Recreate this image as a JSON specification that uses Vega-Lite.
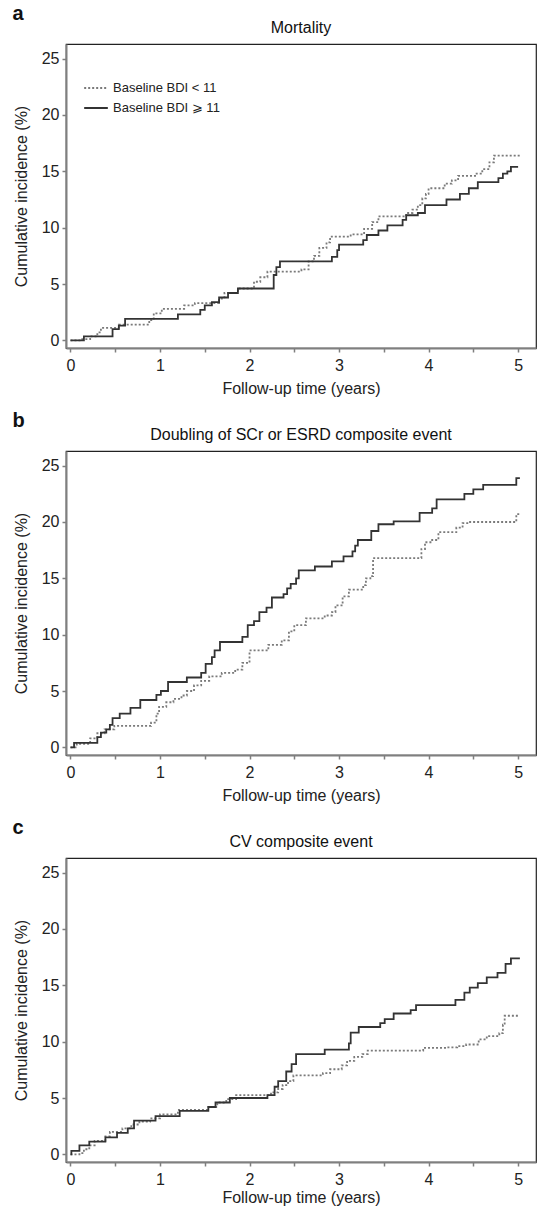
{
  "$schema": "https://vega.github.io/schema/vega-lite/v6.json",
  "padding": {"left": 12, "top": 4, "right": 1, "bottom": 0},
  "spacing": 14,
  "config": {
    "font": "Liberation Sans",
    "view": {"stroke": "#222222", "strokeWidth": 1.2},
    "axis": {"domainColor": "#7f7f7f", "domainWidth": 2, "tickColor": "#7f7f7f", "tickWidth": 1.5, "tickSize": 4, "labelFontSize": 16, "labelColor": "#222222", "labelPadding": 3, "titleFontSize": 16, "titleFontWeight": "normal", "titleColor": "#222222", "grid": false, "zindex": 1},
    "axisX": {"titlePadding": 7, "labelPadding": 5},
    "axisY": {"titlePadding": 12},
    "title": {"color": "#111111"},
    "legend": {"orient": "none", "legendX": 17, "legendY": 31, "title": null, "labelFontSize": 13, "labelColor": "#222222", "symbolType": "stroke", "symbolSize": 560, "symbolStrokeWidth": 2, "rowPadding": -22, "labelOffset": 4}
  },
  "datasets": {
    "a": [
      {"group": "Baseline BDI < 11", "t": 0, "y": 0},
      {"group": "Baseline BDI < 11", "t": 0.12, "y": 0.1},
      {"group": "Baseline BDI < 11", "t": 0.22, "y": 0.35},
      {"group": "Baseline BDI < 11", "t": 0.3, "y": 0.7},
      {"group": "Baseline BDI < 11", "t": 0.34, "y": 1.1},
      {"group": "Baseline BDI < 11", "t": 0.54, "y": 1.4},
      {"group": "Baseline BDI < 11", "t": 0.88, "y": 1.8},
      {"group": "Baseline BDI < 11", "t": 0.93, "y": 2.4},
      {"group": "Baseline BDI < 11", "t": 1.02, "y": 2.8},
      {"group": "Baseline BDI < 11", "t": 1.27, "y": 3.1},
      {"group": "Baseline BDI < 11", "t": 1.39, "y": 3.3},
      {"group": "Baseline BDI < 11", "t": 1.66, "y": 3.7},
      {"group": "Baseline BDI < 11", "t": 1.72, "y": 4.2},
      {"group": "Baseline BDI < 11", "t": 1.87, "y": 4.6},
      {"group": "Baseline BDI < 11", "t": 2.05, "y": 5.2},
      {"group": "Baseline BDI < 11", "t": 2.12, "y": 5.6},
      {"group": "Baseline BDI < 11", "t": 2.2, "y": 6.1},
      {"group": "Baseline BDI < 11", "t": 2.58, "y": 6.3},
      {"group": "Baseline BDI < 11", "t": 2.66, "y": 7.0},
      {"group": "Baseline BDI < 11", "t": 2.72, "y": 7.5},
      {"group": "Baseline BDI < 11", "t": 2.78, "y": 8.2},
      {"group": "Baseline BDI < 11", "t": 2.86, "y": 8.7},
      {"group": "Baseline BDI < 11", "t": 2.9, "y": 9.2},
      {"group": "Baseline BDI < 11", "t": 3.13, "y": 9.4},
      {"group": "Baseline BDI < 11", "t": 3.28, "y": 9.9},
      {"group": "Baseline BDI < 11", "t": 3.37, "y": 10.5},
      {"group": "Baseline BDI < 11", "t": 3.44, "y": 11.0},
      {"group": "Baseline BDI < 11", "t": 3.75, "y": 11.3},
      {"group": "Baseline BDI < 11", "t": 3.82, "y": 11.6},
      {"group": "Baseline BDI < 11", "t": 3.88, "y": 12.0},
      {"group": "Baseline BDI < 11", "t": 3.93, "y": 12.6},
      {"group": "Baseline BDI < 11", "t": 3.97, "y": 13.0},
      {"group": "Baseline BDI < 11", "t": 4.0, "y": 13.5},
      {"group": "Baseline BDI < 11", "t": 4.18, "y": 13.9},
      {"group": "Baseline BDI < 11", "t": 4.26, "y": 14.2},
      {"group": "Baseline BDI < 11", "t": 4.33, "y": 14.6},
      {"group": "Baseline BDI < 11", "t": 4.52, "y": 14.8},
      {"group": "Baseline BDI < 11", "t": 4.6, "y": 15.2},
      {"group": "Baseline BDI < 11", "t": 4.68, "y": 15.8},
      {"group": "Baseline BDI < 11", "t": 4.73, "y": 16.4},
      {"group": "Baseline BDI < 11", "t": 5.03, "y": 16.4},
      {"group": "Baseline BDI ⩾ 11", "t": 0, "y": 0},
      {"group": "Baseline BDI ⩾ 11", "t": 0.15, "y": 0.35},
      {"group": "Baseline BDI ⩾ 11", "t": 0.47, "y": 1.0},
      {"group": "Baseline BDI ⩾ 11", "t": 0.54, "y": 1.3},
      {"group": "Baseline BDI ⩾ 11", "t": 0.61, "y": 1.9},
      {"group": "Baseline BDI ⩾ 11", "t": 1.2, "y": 2.3},
      {"group": "Baseline BDI ⩾ 11", "t": 1.45, "y": 2.7},
      {"group": "Baseline BDI ⩾ 11", "t": 1.5, "y": 3.1},
      {"group": "Baseline BDI ⩾ 11", "t": 1.58, "y": 3.4},
      {"group": "Baseline BDI ⩾ 11", "t": 1.66, "y": 3.8},
      {"group": "Baseline BDI ⩾ 11", "t": 1.76, "y": 4.2},
      {"group": "Baseline BDI ⩾ 11", "t": 1.87, "y": 4.6},
      {"group": "Baseline BDI ⩾ 11", "t": 2.27, "y": 5.8},
      {"group": "Baseline BDI ⩾ 11", "t": 2.3, "y": 6.5},
      {"group": "Baseline BDI ⩾ 11", "t": 2.34, "y": 7.0},
      {"group": "Baseline BDI ⩾ 11", "t": 2.92, "y": 7.4},
      {"group": "Baseline BDI ⩾ 11", "t": 2.98, "y": 8.0},
      {"group": "Baseline BDI ⩾ 11", "t": 3.0, "y": 8.5},
      {"group": "Baseline BDI ⩾ 11", "t": 3.27, "y": 8.9},
      {"group": "Baseline BDI ⩾ 11", "t": 3.31, "y": 9.35},
      {"group": "Baseline BDI ⩾ 11", "t": 3.44, "y": 9.75},
      {"group": "Baseline BDI ⩾ 11", "t": 3.54, "y": 10.2},
      {"group": "Baseline BDI ⩾ 11", "t": 3.71, "y": 10.7},
      {"group": "Baseline BDI ⩾ 11", "t": 3.75, "y": 11.1},
      {"group": "Baseline BDI ⩾ 11", "t": 3.88, "y": 11.3},
      {"group": "Baseline BDI ⩾ 11", "t": 3.96, "y": 12.0},
      {"group": "Baseline BDI ⩾ 11", "t": 4.2, "y": 12.5},
      {"group": "Baseline BDI ⩾ 11", "t": 4.35, "y": 13.0},
      {"group": "Baseline BDI ⩾ 11", "t": 4.45, "y": 13.5},
      {"group": "Baseline BDI ⩾ 11", "t": 4.55, "y": 14.05},
      {"group": "Baseline BDI ⩾ 11", "t": 4.78, "y": 14.4},
      {"group": "Baseline BDI ⩾ 11", "t": 4.83, "y": 14.8},
      {"group": "Baseline BDI ⩾ 11", "t": 4.88, "y": 15.0},
      {"group": "Baseline BDI ⩾ 11", "t": 4.92, "y": 15.4},
      {"group": "Baseline BDI ⩾ 11", "t": 5.0, "y": 15.4}
    ],
    "b": [
      {"group": "Baseline BDI < 11", "t": 0, "y": 0},
      {"group": "Baseline BDI < 11", "t": 0.07, "y": 0.3},
      {"group": "Baseline BDI < 11", "t": 0.22, "y": 0.8},
      {"group": "Baseline BDI < 11", "t": 0.3, "y": 1.25},
      {"group": "Baseline BDI < 11", "t": 0.38, "y": 1.6},
      {"group": "Baseline BDI < 11", "t": 0.49, "y": 1.9},
      {"group": "Baseline BDI < 11", "t": 0.9, "y": 2.2},
      {"group": "Baseline BDI < 11", "t": 0.96, "y": 3.0},
      {"group": "Baseline BDI < 11", "t": 0.99, "y": 3.6},
      {"group": "Baseline BDI < 11", "t": 1.07, "y": 4.0},
      {"group": "Baseline BDI < 11", "t": 1.15, "y": 4.3},
      {"group": "Baseline BDI < 11", "t": 1.24, "y": 4.6},
      {"group": "Baseline BDI < 11", "t": 1.3, "y": 5.0},
      {"group": "Baseline BDI < 11", "t": 1.38, "y": 5.5},
      {"group": "Baseline BDI < 11", "t": 1.46, "y": 5.9},
      {"group": "Baseline BDI < 11", "t": 1.55, "y": 6.3},
      {"group": "Baseline BDI < 11", "t": 1.69, "y": 6.6},
      {"group": "Baseline BDI < 11", "t": 1.84, "y": 6.9},
      {"group": "Baseline BDI < 11", "t": 1.92, "y": 7.5},
      {"group": "Baseline BDI < 11", "t": 2.0, "y": 8.6},
      {"group": "Baseline BDI < 11", "t": 2.21, "y": 9.1},
      {"group": "Baseline BDI < 11", "t": 2.36, "y": 9.5},
      {"group": "Baseline BDI < 11", "t": 2.44, "y": 10.3},
      {"group": "Baseline BDI < 11", "t": 2.5, "y": 10.85},
      {"group": "Baseline BDI < 11", "t": 2.63, "y": 11.45},
      {"group": "Baseline BDI < 11", "t": 2.84, "y": 11.7},
      {"group": "Baseline BDI < 11", "t": 2.92, "y": 12.0},
      {"group": "Baseline BDI < 11", "t": 2.96, "y": 12.6},
      {"group": "Baseline BDI < 11", "t": 3.04, "y": 13.4},
      {"group": "Baseline BDI < 11", "t": 3.11, "y": 14.0},
      {"group": "Baseline BDI < 11", "t": 3.27, "y": 14.4},
      {"group": "Baseline BDI < 11", "t": 3.3, "y": 15.0},
      {"group": "Baseline BDI < 11", "t": 3.35, "y": 15.2},
      {"group": "Baseline BDI < 11", "t": 3.38, "y": 16.8},
      {"group": "Baseline BDI < 11", "t": 3.92, "y": 17.6},
      {"group": "Baseline BDI < 11", "t": 3.96, "y": 18.2},
      {"group": "Baseline BDI < 11", "t": 4.04, "y": 18.4},
      {"group": "Baseline BDI < 11", "t": 4.11, "y": 19.1},
      {"group": "Baseline BDI < 11", "t": 4.31, "y": 19.5},
      {"group": "Baseline BDI < 11", "t": 4.38, "y": 19.9},
      {"group": "Baseline BDI < 11", "t": 4.45, "y": 20.0},
      {"group": "Baseline BDI < 11", "t": 4.98, "y": 20.7},
      {"group": "Baseline BDI < 11", "t": 5.02, "y": 20.7},
      {"group": "Baseline BDI ⩾ 11", "t": 0, "y": 0},
      {"group": "Baseline BDI ⩾ 11", "t": 0.04, "y": 0.4},
      {"group": "Baseline BDI ⩾ 11", "t": 0.3, "y": 0.9},
      {"group": "Baseline BDI ⩾ 11", "t": 0.34, "y": 1.3},
      {"group": "Baseline BDI ⩾ 11", "t": 0.4, "y": 1.6},
      {"group": "Baseline BDI ⩾ 11", "t": 0.44, "y": 2.0},
      {"group": "Baseline BDI ⩾ 11", "t": 0.47, "y": 2.6},
      {"group": "Baseline BDI ⩾ 11", "t": 0.55, "y": 3.0},
      {"group": "Baseline BDI ⩾ 11", "t": 0.67, "y": 3.5},
      {"group": "Baseline BDI ⩾ 11", "t": 0.78, "y": 4.2},
      {"group": "Baseline BDI ⩾ 11", "t": 0.96, "y": 4.65},
      {"group": "Baseline BDI ⩾ 11", "t": 1.01, "y": 5.0},
      {"group": "Baseline BDI ⩾ 11", "t": 1.09, "y": 5.8},
      {"group": "Baseline BDI ⩾ 11", "t": 1.3, "y": 6.2},
      {"group": "Baseline BDI ⩾ 11", "t": 1.46, "y": 6.6},
      {"group": "Baseline BDI ⩾ 11", "t": 1.51, "y": 7.4},
      {"group": "Baseline BDI ⩾ 11", "t": 1.58, "y": 8.0},
      {"group": "Baseline BDI ⩾ 11", "t": 1.61, "y": 8.6},
      {"group": "Baseline BDI ⩾ 11", "t": 1.67, "y": 9.35},
      {"group": "Baseline BDI ⩾ 11", "t": 1.92, "y": 9.8},
      {"group": "Baseline BDI ⩾ 11", "t": 1.98, "y": 10.85},
      {"group": "Baseline BDI ⩾ 11", "t": 2.05, "y": 11.2},
      {"group": "Baseline BDI ⩾ 11", "t": 2.11, "y": 12.0},
      {"group": "Baseline BDI ⩾ 11", "t": 2.19, "y": 12.4},
      {"group": "Baseline BDI ⩾ 11", "t": 2.25, "y": 13.3},
      {"group": "Baseline BDI ⩾ 11", "t": 2.38, "y": 13.6},
      {"group": "Baseline BDI ⩾ 11", "t": 2.42, "y": 14.1},
      {"group": "Baseline BDI ⩾ 11", "t": 2.46, "y": 14.5},
      {"group": "Baseline BDI ⩾ 11", "t": 2.52, "y": 15.0},
      {"group": "Baseline BDI ⩾ 11", "t": 2.55, "y": 15.7},
      {"group": "Baseline BDI ⩾ 11", "t": 2.73, "y": 16.05},
      {"group": "Baseline BDI ⩾ 11", "t": 2.92, "y": 16.5},
      {"group": "Baseline BDI ⩾ 11", "t": 3.05, "y": 16.95},
      {"group": "Baseline BDI ⩾ 11", "t": 3.15, "y": 17.4},
      {"group": "Baseline BDI ⩾ 11", "t": 3.18, "y": 17.9},
      {"group": "Baseline BDI ⩾ 11", "t": 3.21, "y": 18.4},
      {"group": "Baseline BDI ⩾ 11", "t": 3.36, "y": 19.2},
      {"group": "Baseline BDI ⩾ 11", "t": 3.44, "y": 19.8},
      {"group": "Baseline BDI ⩾ 11", "t": 3.61, "y": 20.05},
      {"group": "Baseline BDI ⩾ 11", "t": 3.9, "y": 20.8},
      {"group": "Baseline BDI ⩾ 11", "t": 4.04, "y": 21.2},
      {"group": "Baseline BDI ⩾ 11", "t": 4.09, "y": 22.0},
      {"group": "Baseline BDI ⩾ 11", "t": 4.4, "y": 22.5},
      {"group": "Baseline BDI ⩾ 11", "t": 4.5, "y": 22.9},
      {"group": "Baseline BDI ⩾ 11", "t": 4.61, "y": 23.3},
      {"group": "Baseline BDI ⩾ 11", "t": 4.98, "y": 23.9},
      {"group": "Baseline BDI ⩾ 11", "t": 5.02, "y": 23.9}
    ],
    "c": [
      {"group": "Baseline BDI < 11", "t": 0, "y": 0},
      {"group": "Baseline BDI < 11", "t": 0.1, "y": 0.1},
      {"group": "Baseline BDI < 11", "t": 0.15, "y": 0.45},
      {"group": "Baseline BDI < 11", "t": 0.21, "y": 0.8},
      {"group": "Baseline BDI < 11", "t": 0.27, "y": 1.2},
      {"group": "Baseline BDI < 11", "t": 0.39, "y": 1.6},
      {"group": "Baseline BDI < 11", "t": 0.44, "y": 2.0},
      {"group": "Baseline BDI < 11", "t": 0.58, "y": 2.3},
      {"group": "Baseline BDI < 11", "t": 0.68, "y": 2.65},
      {"group": "Baseline BDI < 11", "t": 0.77, "y": 2.9},
      {"group": "Baseline BDI < 11", "t": 0.89, "y": 3.2},
      {"group": "Baseline BDI < 11", "t": 1.0, "y": 3.55},
      {"group": "Baseline BDI < 11", "t": 1.2, "y": 3.95},
      {"group": "Baseline BDI < 11", "t": 1.54, "y": 4.2},
      {"group": "Baseline BDI < 11", "t": 1.64, "y": 4.6},
      {"group": "Baseline BDI < 11", "t": 1.74, "y": 4.9},
      {"group": "Baseline BDI < 11", "t": 1.85, "y": 5.25},
      {"group": "Baseline BDI < 11", "t": 2.24, "y": 5.5},
      {"group": "Baseline BDI < 11", "t": 2.32, "y": 5.8},
      {"group": "Baseline BDI < 11", "t": 2.37, "y": 6.15},
      {"group": "Baseline BDI < 11", "t": 2.43, "y": 6.5},
      {"group": "Baseline BDI < 11", "t": 2.49, "y": 7.0},
      {"group": "Baseline BDI < 11", "t": 2.82, "y": 7.2},
      {"group": "Baseline BDI < 11", "t": 2.9, "y": 7.55},
      {"group": "Baseline BDI < 11", "t": 3.03, "y": 7.9},
      {"group": "Baseline BDI < 11", "t": 3.09, "y": 8.3},
      {"group": "Baseline BDI < 11", "t": 3.17, "y": 8.65},
      {"group": "Baseline BDI < 11", "t": 3.26, "y": 8.9},
      {"group": "Baseline BDI < 11", "t": 3.32, "y": 9.2},
      {"group": "Baseline BDI < 11", "t": 3.94, "y": 9.45},
      {"group": "Baseline BDI < 11", "t": 4.21, "y": 9.5},
      {"group": "Baseline BDI < 11", "t": 4.32, "y": 9.6},
      {"group": "Baseline BDI < 11", "t": 4.42, "y": 9.75},
      {"group": "Baseline BDI < 11", "t": 4.56, "y": 10.2},
      {"group": "Baseline BDI < 11", "t": 4.65, "y": 10.5},
      {"group": "Baseline BDI < 11", "t": 4.79, "y": 10.75},
      {"group": "Baseline BDI < 11", "t": 4.83, "y": 11.5},
      {"group": "Baseline BDI < 11", "t": 4.85, "y": 12.3},
      {"group": "Baseline BDI < 11", "t": 5.02, "y": 12.3},
      {"group": "Baseline BDI ⩾ 11", "t": 0, "y": 0},
      {"group": "Baseline BDI ⩾ 11", "t": 0.01, "y": 0.3},
      {"group": "Baseline BDI ⩾ 11", "t": 0.1, "y": 0.8},
      {"group": "Baseline BDI ⩾ 11", "t": 0.21, "y": 1.13},
      {"group": "Baseline BDI ⩾ 11", "t": 0.39, "y": 1.5},
      {"group": "Baseline BDI ⩾ 11", "t": 0.52, "y": 1.9},
      {"group": "Baseline BDI ⩾ 11", "t": 0.64, "y": 2.3},
      {"group": "Baseline BDI ⩾ 11", "t": 0.71, "y": 3.0},
      {"group": "Baseline BDI ⩾ 11", "t": 0.95, "y": 3.4},
      {"group": "Baseline BDI ⩾ 11", "t": 1.22, "y": 3.85},
      {"group": "Baseline BDI ⩾ 11", "t": 1.54, "y": 4.2},
      {"group": "Baseline BDI ⩾ 11", "t": 1.62, "y": 4.6},
      {"group": "Baseline BDI ⩾ 11", "t": 1.78, "y": 5.0},
      {"group": "Baseline BDI ⩾ 11", "t": 2.2, "y": 5.25},
      {"group": "Baseline BDI ⩾ 11", "t": 2.28, "y": 6.0},
      {"group": "Baseline BDI ⩾ 11", "t": 2.32, "y": 6.5},
      {"group": "Baseline BDI ⩾ 11", "t": 2.41, "y": 7.35},
      {"group": "Baseline BDI ⩾ 11", "t": 2.47, "y": 8.0},
      {"group": "Baseline BDI ⩾ 11", "t": 2.52, "y": 8.9},
      {"group": "Baseline BDI ⩾ 11", "t": 2.84, "y": 9.3},
      {"group": "Baseline BDI ⩾ 11", "t": 3.11, "y": 9.85},
      {"group": "Baseline BDI ⩾ 11", "t": 3.13, "y": 10.8},
      {"group": "Baseline BDI ⩾ 11", "t": 3.22, "y": 11.3},
      {"group": "Baseline BDI ⩾ 11", "t": 3.46, "y": 11.65},
      {"group": "Baseline BDI ⩾ 11", "t": 3.51, "y": 12.0},
      {"group": "Baseline BDI ⩾ 11", "t": 3.61, "y": 12.5},
      {"group": "Baseline BDI ⩾ 11", "t": 3.8, "y": 12.8},
      {"group": "Baseline BDI ⩾ 11", "t": 3.86, "y": 13.25},
      {"group": "Baseline BDI ⩾ 11", "t": 4.3, "y": 13.7},
      {"group": "Baseline BDI ⩾ 11", "t": 4.4, "y": 14.35},
      {"group": "Baseline BDI ⩾ 11", "t": 4.46, "y": 14.8},
      {"group": "Baseline BDI ⩾ 11", "t": 4.55, "y": 15.2},
      {"group": "Baseline BDI ⩾ 11", "t": 4.65, "y": 15.7},
      {"group": "Baseline BDI ⩾ 11", "t": 4.77, "y": 16.1},
      {"group": "Baseline BDI ⩾ 11", "t": 4.86, "y": 16.9},
      {"group": "Baseline BDI ⩾ 11", "t": 4.92, "y": 17.4},
      {"group": "Baseline BDI ⩾ 11", "t": 5.02, "y": 17.4}
    ]
  },
  "vconcat": [
    {
      "title": {"text": "a", "anchor": "start", "fontSize": 20, "fontWeight": "bold", "offset": -5},
      "vconcat": [
        {
          "width": 470, "height": 304,
          "title": {"text": "Mortality", "fontSize": 16, "fontWeight": "normal", "offset": 8},
          "data": {"name": "a"},
          "mark": {"type": "line", "interpolate": "step-after", "strokeWidth": 1.8},
          "encoding": {
            "x": {"field": "t", "type": "quantitative", "scale": {"domain": [-0.05, 5.2], "nice": false, "zero": false}, "axis": {"title": "Follow-up time (years)", "values": [0, 0.5, 1, 1.5, 2, 2.5, 3, 3.5, 4, 4.5, 5], "labelExpr": "datum.value % 1 === 0 ? format(datum.value, 'd') : ''"}},
            "y": {"field": "y", "type": "quantitative", "scale": {"domain": [-0.68, 26.3], "nice": false, "zero": false}, "axis": {"title": "Cumulative incidence (%)", "values": [0, 5, 10, 15, 20, 25]}},
            "color": {"field": "group", "type": "nominal", "scale": {"domain": ["Baseline BDI < 11", "Baseline BDI ⩾ 11"], "range": ["#7a7a7a", "#333333"]}},
            "strokeDash": {"field": "group", "type": "nominal", "scale": {"domain": ["Baseline BDI < 11", "Baseline BDI ⩾ 11"], "range": [[2, 2], [1, 0]]}}
          }
        }
      ]
    },
    {
      "title": {"text": "b", "anchor": "start", "fontSize": 20, "fontWeight": "bold", "offset": -5},
      "vconcat": [
        {
          "width": 470, "height": 304,
          "title": {"text": "Doubling of SCr or ESRD composite event", "fontSize": 16, "fontWeight": "normal", "offset": 8},
          "data": {"name": "b"},
          "mark": {"type": "line", "interpolate": "step-after", "strokeWidth": 1.8},
          "encoding": {
            "x": {"field": "t", "type": "quantitative", "scale": {"domain": [-0.05, 5.2], "nice": false, "zero": false}, "axis": {"title": "Follow-up time (years)", "values": [0, 0.5, 1, 1.5, 2, 2.5, 3, 3.5, 4, 4.5, 5], "labelExpr": "datum.value % 1 === 0 ? format(datum.value, 'd') : ''"}},
            "y": {"field": "y", "type": "quantitative", "scale": {"domain": [-0.68, 26.3], "nice": false, "zero": false}, "axis": {"title": "Cumulative incidence (%)", "values": [0, 5, 10, 15, 20, 25]}},
            "color": {"field": "group", "type": "nominal", "scale": {"domain": ["Baseline BDI < 11", "Baseline BDI ⩾ 11"], "range": ["#7a7a7a", "#333333"]}},
            "strokeDash": {"field": "group", "type": "nominal", "scale": {"domain": ["Baseline BDI < 11", "Baseline BDI ⩾ 11"], "range": [[2, 2], [1, 0]]}}
          }
        }
      ]
    },
    {
      "title": {"text": "c", "anchor": "start", "fontSize": 20, "fontWeight": "bold", "offset": -5},
      "vconcat": [
        {
          "width": 470, "height": 304,
          "title": {"text": "CV composite event", "fontSize": 16, "fontWeight": "normal", "offset": 8},
          "data": {"name": "c"},
          "mark": {"type": "line", "interpolate": "step-after", "strokeWidth": 1.8},
          "encoding": {
            "x": {"field": "t", "type": "quantitative", "scale": {"domain": [-0.05, 5.2], "nice": false, "zero": false}, "axis": {"title": "Follow-up time (years)", "titlePadding": 2, "values": [0, 0.5, 1, 1.5, 2, 2.5, 3, 3.5, 4, 4.5, 5], "labelExpr": "datum.value % 1 === 0 ? format(datum.value, 'd') : ''"}},
            "y": {"field": "y", "type": "quantitative", "scale": {"domain": [-0.68, 26.3], "nice": false, "zero": false}, "axis": {"title": "Cumulative incidence (%)", "values": [0, 5, 10, 15, 20, 25]}},
            "color": {"field": "group", "type": "nominal", "scale": {"domain": ["Baseline BDI < 11", "Baseline BDI ⩾ 11"], "range": ["#7a7a7a", "#333333"]}},
            "strokeDash": {"field": "group", "type": "nominal", "scale": {"domain": ["Baseline BDI < 11", "Baseline BDI ⩾ 11"], "range": [[2, 2], [1, 0]]}}
          }
        }
      ]
    }
  ]
}
